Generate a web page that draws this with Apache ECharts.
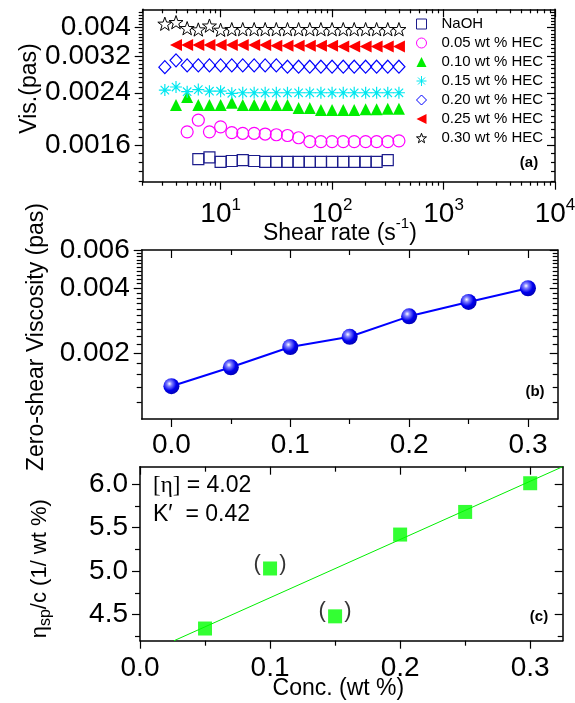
<!DOCTYPE html>
<html><head><meta charset="utf-8">
<script src="https://cdn.jsdelivr.net/npm/echarts@6/dist/echarts.min.js"></script>
<style>html,body{margin:0;padding:0;background:#fff}#c{width:575px;height:703px}</style>
</head><body><div id="c"></div>
<script>
// ---------- DATA ----------
// Panel (a): viscosity vs shear rate
const shearRate = [3.16, 3.98, 5.01, 6.31, 7.94, 10, 12.6, 15.8, 20, 25.1, 31.6, 39.8, 50.1, 63.1, 79.4, 100, 126, 158, 200, 251, 316, 398];
const visNaOH = [null, null, null, 0.00143, 0.00145, 0.00140, 0.00141, 0.00142, 0.00141, 0.00140, 0.00140, 0.00140, 0.00140, 0.00140, 0.00140, 0.00140, 0.00140, 0.00140, 0.00140, 0.00140, 0.00142, null];
const vis005 = [null, null, 0.00177, 0.00194, 0.00177, 0.00184, 0.00176, 0.00175, 0.00175, 0.00174, 0.00173, 0.00172, 0.00169, 0.00164, 0.00164, 0.00164, 0.00164, 0.00164, 0.00164, 0.00164, 0.00164, 0.00165];
const vis010 = [null, 0.00218, 0.00232, 0.00218, 0.00218, 0.00218, 0.00222, 0.00218, 0.00218, 0.00218, 0.00218, 0.00218, 0.00213, 0.00213, 0.00210, 0.00210, 0.00210, 0.00210, 0.00211, 0.00211, 0.00212, 0.00212];
const vis015 = [0.00245, 0.00251, 0.00242, 0.00246, 0.00243, 0.00243, 0.00239, 0.00240, 0.00240, 0.00240, 0.00240, 0.00240, 0.00240, 0.00240, 0.00240, 0.00240, 0.00240, 0.00240, 0.00240, 0.00240, 0.00240, 0.00240];
const vis020 = [0.00293, 0.00309, 0.00297, 0.00297, 0.00297, 0.00297, 0.00297, 0.00297, 0.00297, 0.00297, 0.00297, 0.00294, 0.00294, 0.00294, 0.00294, 0.00294, 0.00294, 0.00294, 0.00294, 0.00294, 0.00294, 0.00294];
const vis025 = [null, 0.00348, 0.00348, 0.00348, 0.00348, 0.00348, 0.00348, 0.00348, 0.00348, 0.00348, 0.00346, 0.00346, 0.00346, 0.00346, 0.00346, 0.00346, 0.00344, 0.00344, 0.00344, 0.00344, 0.00344, 0.00344];
const vis030 = [0.00411, 0.00416, 0.00397, 0.00393, 0.00405, 0.00392, 0.00394, 0.00394, 0.00394, 0.00394, 0.00394, 0.00394, 0.00394, 0.00394, 0.00394, 0.00394, 0.00394, 0.00394, 0.00394, 0.00394, 0.00394, 0.00394];
const seriesNames = ['NaOH', '0.05 wt % HEC', '0.10 wt % HEC', '0.15 wt % HEC', '0.20 wt % HEC', '0.25 wt % HEC', '0.30 wt % HEC'];

// Panel (b): zero-shear viscosity vs concentration
const concB = [0, 0.05, 0.10, 0.15, 0.20, 0.25, 0.30];
const zeroVisc = [0.001416, 0.00173, 0.002145, 0.00239, 0.00297, 0.00346, 0.00400];

// Panel (c): reduced viscosity vs concentration
const concC = [0.05, 0.10, 0.15, 0.20, 0.25, 0.30];
const etaSpC = [4.34, 5.03, 4.48, 5.42, 5.68, 6.01];
const parenPoints = [0.10, 0.15];
const fitX = [0.0262, 0.325];
const fitY = [4.20, 6.20];
const annotIntrinsic = '4.02';
const annotHuggins = '0.42';

// Tick values
const aXMajor = [10, 100, 1000, 10000];
const aXMinor = [2, 3, 4, 5, 6, 7, 8, 9, 20, 30, 40, 50, 60, 70, 80, 90, 200, 300, 400, 500, 600, 700, 800, 900, 2000, 3000, 4000, 5000, 6000, 7000, 8000, 9000];
const aYMajor = [0.0016, 0.0024, 0.0032, 0.004];
const aYMinor = [0.0012, 0.0013, 0.0014, 0.0015, 0.0017, 0.0018, 0.0019, 0.0020, 0.0021, 0.0022, 0.0023, 0.0025, 0.0026, 0.0027, 0.0028, 0.0029, 0.0030, 0.0031, 0.0033, 0.0034, 0.0035, 0.0036, 0.0037, 0.0038, 0.0039, 0.0041, 0.0042, 0.0043, 0.0044, 0.0045];
const bXMajor = [0, 0.1, 0.2, 0.3];
const bXMinor = [0.05, 0.15, 0.25];
const bYMajor = [0.002, 0.004, 0.006];
const bYMinor = [0.0012, 0.0014, 0.0016, 0.0018, 0.0022, 0.0024, 0.0026, 0.0028, 0.0030, 0.0032, 0.0034, 0.0036, 0.0038, 0.0042, 0.0044, 0.0046, 0.0048, 0.0050, 0.0052, 0.0054, 0.0056, 0.0058];
const cXMajor = [0, 0.1, 0.2, 0.3];
const cXMinor = [0.05, 0.15, 0.25];
const cYMajor = [4.5, 5.0, 5.5, 6.0];
const cYMinor = [4.25, 4.75, 5.25, 5.75];

// ---------- CHART ----------
const FONT = "'Liberation Sans', Arial, Helvetica, sans-serif";
const SERIF = "'Liberation Serif', 'Times New Roman', serif";
const chart = echarts.init(document.getElementById('c'));

const xAxes = [], yAxes = [];
function frame(list, grid, type, min, max, posMain, posOpp, majors, minors, minorLen, labelCfg, nameCfg) {
  const base = {gridIndex: grid, type: type, min: min, max: max,
    splitLine: {show: false}, minorTick: {show: false}, minorSplitLine: {show: false}, splitArea: {show: false}};
  if (type === 'log') base.logBase = 10;
  const line = {show: true, onZero: false, lineStyle: {color: '#000', width: 1.5}};
  const noLine = {show: false, onZero: false};
  const ts = {color: '#000', width: 1.2};
  list.push(Object.assign({}, base, {position: posMain, axisLine: line, nameMoveOverlap: false,
    axisTick: {show: true, inside: false, length: 8, lineStyle: ts, customValues: majors},
    axisLabel: Object.assign({show: true, customValues: majors, color: '#000', fontFamily: FONT, fontSize: 28}, labelCfg)}, nameCfg || {}));
  const idx = list.length - 1;
  list.push(Object.assign({}, base, {position: posMain, axisLine: noLine,
    axisTick: {show: true, inside: false, length: minorLen, lineStyle: ts, customValues: minors}, axisLabel: {show: false}}));
  list.push(Object.assign({}, base, {position: posOpp, axisLine: line,
    axisTick: {show: true, inside: true, length: 8, lineStyle: ts, customValues: majors}, axisLabel: {show: false}}));
  list.push(Object.assign({}, base, {position: posOpp, axisLine: noLine,
    axisTick: {show: true, inside: true, length: minorLen, lineStyle: ts, customValues: minors}, axisLabel: {show: false}}));
  return idx;
}
const trim = v => String(+v.toPrecision(6));

const ax = frame(xAxes, 0, 'log', 2, 10000, 'bottom', 'top', aXMajor, aXMinor, 4,
  {margin: 15, formatter: v => '{b|10}{s|' + Math.round(Math.log10(v)) + '}',
   rich: {b: {fontSize: 28, fontFamily: FONT, color: '#000', padding: [4, 0, 0, 0], verticalAlign: 'bottom'},
          s: {fontSize: 17, fontFamily: FONT, color: '#000', verticalAlign: 'top'}}},
  {name: '{n|Shear rate (s}{s|-1}{n|)}', nameLocation: 'middle', nameGap: 35,
   nameTextStyle: {padding: [0, 18, 0, 0], rich: {
     n: {fontSize: 23, fontFamily: FONT, color: '#000', padding: [5, 0, 0, 0], verticalAlign: 'bottom'},
     s: {fontSize: 15, fontFamily: FONT, color: '#000', verticalAlign: 'top'}}}});
const ay = frame(yAxes, 0, 'log', 0.0012, 0.0046, 'left', 'right', aYMajor, aYMinor, 4,
  {margin: 12, formatter: trim},
  {name: 'Vis.(pas)', nameLocation: 'middle', nameGap: 102,
   nameTextStyle: {fontSize: 23, fontFamily: FONT, color: '#000', padding: [0, 0, 0, 14]}});

const bx = frame(xAxes, 1, 'value', -0.025, 0.325, 'bottom', 'top', bXMajor, bXMinor, 5,
  {margin: 12, formatter: v => v.toFixed(1)});
const by = frame(yAxes, 1, 'log', 0.001, 0.006, 'left', 'right', bYMajor, bYMinor, 5,
  {margin: 12, formatter: trim},
  {name: 'Zero-shear Viscosity (pas)', nameLocation: 'middle', nameGap: 94,
   nameTextStyle: {fontSize: 23, fontFamily: FONT, color: '#000', padding: [0, 5, 0, 0]}});

const cx = frame(xAxes, 2, 'value', 0, 0.325, 'bottom', 'top', cXMajor, cXMinor, 5,
  {margin: 14, formatter: v => v.toFixed(1)},
  {name: 'Conc. (wt %)', nameLocation: 'middle', nameGap: 36,
   nameTextStyle: {fontSize: 23, fontFamily: FONT, color: '#000', padding: [0, 26, 0, 0]}});
const cy = frame(yAxes, 2, 'value', 4.2, 6.2, 'left', 'right', cYMajor, cYMinor, 5,
  {margin: 12, formatter: v => v.toFixed(1)},
  {name: '{n|η}{sub|sp}{n|/c (1/ wt %)}', nameLocation: 'middle', nameGap: 86,
   nameTextStyle: {padding: [0, 30, 0, 0], rich: {
     n: {fontSize: 22, fontFamily: FONT, color: '#000', verticalAlign: 'top'},
     sub: {fontSize: 16, fontFamily: FONT, color: '#000', verticalAlign: 'bottom', padding: [9, 0, 0, 0]}}}});

const STAR = 'path://M10,0 L12.35,6.76 L19.51,6.91 L13.8,11.24 L15.88,18.09 L10,14 L4.12,18.09 L6.2,11.24 L0.49,6.91 L7.65,6.76 Z';
const LTRI = 'path://M0,5 L10,0 L10,10 Z';
const AST = 'path://M5,0 L5,10 M0,5 L10,5 M1.5,1.5 L8.5,8.5 M8.5,1.5 L1.5,8.5';
const aStyles = [
  {symbol: 'rect', size: 11, fill: 'rgba(0,0,0,0)', stroke: '#1c1c8c', bw: 1.2},
  {symbol: 'circle', size: 12, fill: 'rgba(0,0,0,0)', stroke: '#ff00ff', bw: 1.2},
  {symbol: 'triangle', size: 12, fill: '#00ee00', stroke: '#00ee00', bw: 0},
  {symbol: AST, size: 12, fill: '#00ffff', stroke: '#00e8f0', bw: 1.2},
  {symbol: 'diamond', size: [12, 13], fill: 'rgba(0,0,0,0)', stroke: '#0000ff', bw: 1.2},
  {symbol: LTRI, size: 12, fill: '#ff0000', stroke: '#ff0000', bw: 0},
  {symbol: STAR, size: 14, fill: 'rgba(0,0,0,0)', stroke: '#000000', bw: 1}
];
const aValues = [visNaOH, vis005, vis010, vis015, vis020, vis025, vis030];
const series = aValues.map((vals, i) => ({
  type: 'scatter', name: seriesNames[i], xAxisIndex: ax, yAxisIndex: ay,
  symbol: aStyles[i].symbol, symbolSize: aStyles[i].size, symbolKeepAspect: true,
  itemStyle: {color: aStyles[i].fill, borderColor: aStyles[i].stroke, borderWidth: aStyles[i].bw, opacity: 1},
  data: shearRate.map((x, j) => vals[j] == null ? null : [x, vals[j]]).filter(d => d),
  z: 3 + i
}));

series.push({
  type: 'line', xAxisIndex: bx, yAxisIndex: by,
  data: concB.map((c, i) => [c, zeroVisc[i]]),
  lineStyle: {color: '#0000ff', width: 2},
  symbol: 'circle', symbolSize: 16,
  itemStyle: {color: {type: 'radial', x: 0.38, y: 0.35, r: 0.7,
    colorStops: [{offset: 0, color: '#ffffff'}, {offset: 0.22, color: '#8080ff'}, {offset: 0.6, color: '#0000ee'}, {offset: 1, color: '#0000b0'}]}},
  z: 5
});

series.push({
  type: 'line', xAxisIndex: cx, yAxisIndex: cy,
  data: fitX.map((x, i) => [x, fitY[i]]),
  lineStyle: {color: '#00ee00', width: 1}, symbol: 'none', z: 3
});
series.push({
  type: 'scatter', xAxisIndex: cx, yAxisIndex: cy,
  data: concC.map((c, i) => {
    const d = {value: [c, etaSpC[i]]};
    if (parenPoints.indexOf(c) >= 0) {
      d.label = {show: true, position: 'inside', formatter: '(   )', offset: [0, -5],
        fontSize: 22, fontFamily: FONT, color: '#000'};
    }
    return d;
  }),
  symbol: 'rect', symbolSize: 14,
  itemStyle: {color: '#00ff00', borderWidth: 0}, z: 5
});

const grids = [
  {left: 142.7, top: 9.3, width: 412.3, height: 172.4},
  {left: 141.7, top: 250, width: 416, height: 169},
  {left: 140, top: 466.7, width: 422.7, height: 174}
].map(g => Object.assign(g, {containLabel: false, outerBoundsMode: 'none', show: false}));

const legendData = seriesNames.map((n, i) => ({name: n,
  itemStyle: {color: aStyles[i].fill, borderColor: aStyles[i].stroke, borderWidth: aStyles[i].bw === 0 ? 0 : 1}}));

chart.setOption({
  animation: false,
  backgroundColor: '#fff',
  grid: grids,
  xAxis: xAxes,
  yAxis: yAxes,
  legend: {
    data: legendData, orient: 'vertical', left: 411, top: 11,
    itemWidth: 10, itemHeight: 10, itemGap: 3, selectedMode: false,
    textStyle: {fontSize: 15, fontFamily: FONT, color: '#000', lineHeight: 16, padding: [0, 0, 0, 10]}
  },
  graphic: [
    {type: 'text', x: 529, y: 163, style: {text: '(a)', font: 'bold 15px ' + FONT, fill: '#000', align: 'center', verticalAlign: 'middle'}},
    {type: 'text', x: 535, y: 392, style: {text: '(b)', font: 'bold 15px ' + FONT, fill: '#000', align: 'center', verticalAlign: 'middle'}},
    {type: 'text', x: 539, y: 617, style: {text: '(c)', font: 'bold 15px ' + FONT, fill: '#000', align: 'center', verticalAlign: 'middle'}},
    {type: 'text', x: 153, y: 486, style: {text: '{s|[η]} = ' + annotIntrinsic, font: '23px ' + FONT, fill: '#000', align: 'left', verticalAlign: 'middle',
      rich: {s: {fontFamily: SERIF, fontSize: 23, fill: '#000'}}}},
    {type: 'text', x: 153, y: 515, style: {text: 'K′  = ' + annotHuggins, font: '23px ' + FONT, fill: '#000', align: 'left', verticalAlign: 'middle'}}
  ],
  series: series
});
</script>
</body></html>
